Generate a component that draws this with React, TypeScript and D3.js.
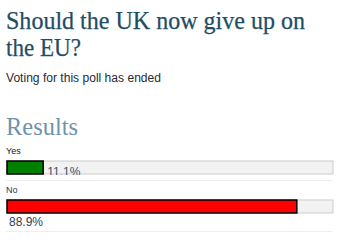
import React from "react";
import * as d3 from "d3";

// Poll results
const options = ["Yes", "No"];
const percents = [11.1, 88.9];
const barColors = ["#008000", "#ff0000"];

const titleLines = ["Should the UK now give up on", "the EU?"];
const subtitle = "Voting for this poll has ended";
const resultsHeading = "Results";

const W = 344;
const H = 248;

export default function App() {
  const x = d3.scaleLinear().domain([0, 100]).range([7, 333]);
  const rowTop = [161, 200];
  const trackH = 13;
  const sans = "'Liberation Sans', Arial, sans-serif";
  const serif = "'Liberation Serif', Georgia, serif";

  return (
    <svg
      width={W}
      height={H}
      style={{ position: "absolute", left: 0, top: 0, background: "#fff" }}
    >
      <defs>
        {options.map((o, i) => (
          <clipPath id={`clip-${i}`} key={o}>
            <rect x={0} y={rowTop[i] - 20} width={W} height={20 + trackH + 1} />
          </clipPath>
        ))}
      </defs>

      {titleLines.map((t, i) => (
        <text
          key={t}
          x={6}
          y={29 + i * 27}
          fontFamily={serif}
          fontSize={25.5}
          fill="#1f4e63"
          stroke="#1f4e63"
          strokeWidth={0.25}
          textLength={i === 0 ? 299 : 75}
          lengthAdjust="spacingAndGlyphs"
        >
          {t}
        </text>
      ))}

      <text x={6} y={81.5} fontFamily={sans} fontSize={12} fill="#1c2b3c" textLength={155} lengthAdjust="spacingAndGlyphs">
        {subtitle}
      </text>

      <text x={6} y={135} fontFamily={serif} fontSize={25} fill="#6f93a8" textLength={72} lengthAdjust="spacingAndGlyphs">
        {resultsHeading}
      </text>

      {options.map((o, i) => {
        const y0 = rowTop[i];
        const xEnd = x(percents[i]);
        const label = `${percents[i]}%`;
        const inline = xEnd + 45 < x(100);
        return (
          <g key={o}>
            <text
              x={6}
              y={y0 - 7}
              fontFamily={sans}
              fontSize={9}
              fill={i === 0 ? "#222" : "#1c3a5c"}
            >
              {o}
            </text>
            <rect
              x={x(0)}
              y={y0}
              width={x(100) - x(0)}
              height={trackH}
              fill="#f2f2f2"
              stroke="#cccccc"
              strokeWidth={1}
            />
            <rect
              x={x(0)}
              y={y0}
              width={xEnd - x(0)}
              height={trackH}
              fill={barColors[i]}
              stroke="#000"
              strokeWidth={1.5}
            />
            {inline ? (
              <text
                x={xEnd + 4}
                y={y0 + 15}
                fontFamily={sans}
                fontSize={12}
                fill="#2f5773"
                clipPath={`url(#clip-${i})`}
              >
                {label}
              </text>
            ) : (
              <text x={9} y={y0 + 26} fontFamily={sans} fontSize={12} fill="#2b3f57">
                {label}
              </text>
            )}
            <line
              x1={6}
              x2={332}
              y1={i === 0 ? 180.5 : 231.5}
              y2={i === 0 ? 180.5 : 231.5}
              stroke="#eeeeee"
              strokeWidth={1}
            />
          </g>
        );
      })}
    </svg>
  );
}
